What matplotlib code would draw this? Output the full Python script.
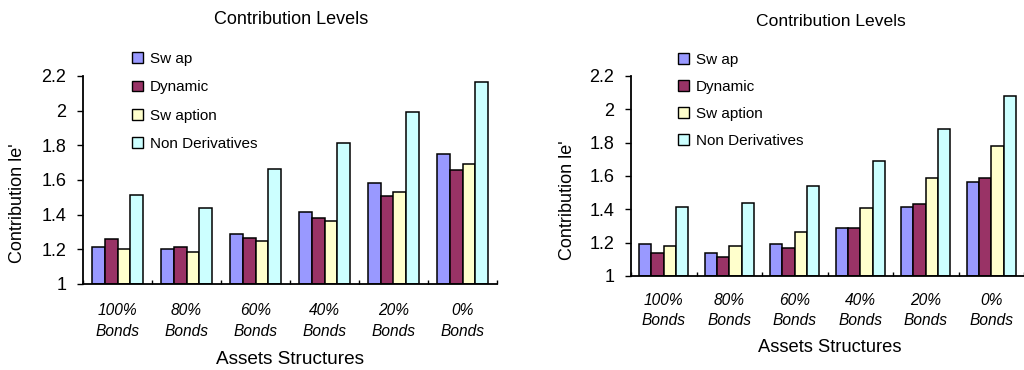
import matplotlib

matplotlib.use("Agg")
import matplotlib.pyplot as plt
import numpy as np

plt.rcParams["font.family"] = ["Liberation Sans", "DejaVu Sans"]

categories = ["100%\nBonds", "80%\nBonds", "60%\nBonds", "40%\nBonds", "20%\nBonds", "0%\nBonds"]
series_names = ["Sw ap", "Dynamic", "Sw aption", "Non Derivatives"]
colors = ["#9999ff", "#993366", "#ffffcc", "#ccffff"]

left_swap = [1.215, 1.20, 1.29, 1.415, 1.583, 1.75]
left_dynamic = [1.258, 1.215, 1.265, 1.383, 1.506, 1.658]
left_swaption = [1.20, 1.183, 1.25, 1.365, 1.533, 1.69]
left_nonderiv = [1.515, 1.44, 1.665, 1.815, 1.99, 2.165]

right_swap = [1.19, 1.14, 1.19, 1.29, 1.416, 1.566]
right_dynamic = [1.14, 1.116, 1.166, 1.29, 1.434, 1.59]
right_swaption = [1.182, 1.18, 1.266, 1.406, 1.59, 1.782]
right_nonderiv = [1.416, 1.44, 1.54, 1.69, 1.884, 2.082]

yticks = [1, 1.2, 1.4, 1.6, 1.8, 2, 2.2]
ytick_labels = ["1", "1.2", "1.4", "1.6", "1.8", "2", "2.2"]

W, H = 1024, 370


def px_axes(fig, x0, x1, top, bottom):
    return fig.add_axes([x0 / W, (H - bottom) / H, (x1 - x0) / W, (bottom - top) / H])


def draw_panel(fig, ax, series, group_frac, title_xy, title_size, ylabel_xy, xlabel_xy,
               xlabel_size, legend_xy, legend_space, tick_pad):
    n = len(series)
    x = np.arange(len(categories))
    width = group_frac / n
    for k, (vals, name, color) in enumerate(zip(series, series_names, colors)):
        offs = (k - (n - 1) / 2) * width
        ax.bar(x + offs, np.array(vals) - 1, width=width, bottom=1, color=color,
               edgecolor="black", linewidth=1.1, label=name)

    ax.set_xlim(-0.5, len(categories) - 0.5)
    ax.set_ylim(1, 2.2)
    ax.set_yticks(yticks)
    ax.set_yticklabels(ytick_labels, fontsize=13)
    ax.tick_params(axis="y", direction="out", length=4, width=1, pad=8)

    ax.set_xticks(x)
    ax.set_xticklabels(categories, fontsize=11.2, style="italic", linespacing=1.45)
    ax.tick_params(axis="x", length=0, pad=tick_pad)
    ax.set_xticks(np.arange(len(categories) + 1) - 0.5, minor=True)
    ax.tick_params(axis="x", which="minor", direction="in", length=3, width=1)

    for side in ["top", "right"]:
        ax.spines[side].set_visible(False)
    for side in ["left", "bottom"]:
        ax.spines[side].set_linewidth(1.3)
    ax.patch.set_alpha(0)

    fig.text(title_xy[0] / W, 1 - title_xy[1] / H, "Contribution Levels", fontsize=title_size,
             ha="center", va="center")
    fig.text(ylabel_xy[0] / W, 1 - ylabel_xy[1] / H, "Contribution le'", fontsize=13,
             rotation=90, ha="center", va="center")
    fig.text(xlabel_xy[0] / W, 1 - xlabel_xy[1] / H, "Assets Structures", fontsize=xlabel_size,
             ha="center", va="center")

    leg = ax.legend(loc="upper left", bbox_to_anchor=(legend_xy[0] / W, 1 - legend_xy[1] / H),
                    bbox_transform=fig.transFigure, frameon=False, fontsize=11,
                    handlelength=0.72, handleheight=0.72, handletextpad=0.45,
                    labelspacing=legend_space, borderpad=0, borderaxespad=0)
    for h in leg.legend_handles:
        h.set_linewidth(1.0)
    return ax


fig = plt.figure(figsize=(W / 100, H / 100), dpi=100)

ax_left = px_axes(fig, 83, 497, 76, 284)
draw_panel(fig, ax_left, [left_swap, left_dynamic, left_swaption, left_nonderiv], 0.73,
           (291, 20), 13, (18, 203), (290, 359), 13.7, (132, 52), 0.94, 14)

ax_right = px_axes(fig, 631, 1024, 76, 276)
draw_panel(fig, ax_right, [right_swap, right_dynamic, right_swaption, right_nonderiv], 0.75,
           (831, 22), 12.6, (567, 200), (830, 348), 13.2, (678, 53), 0.85, 12)

fig.savefig("out.png", dpi=100, facecolor="white")
